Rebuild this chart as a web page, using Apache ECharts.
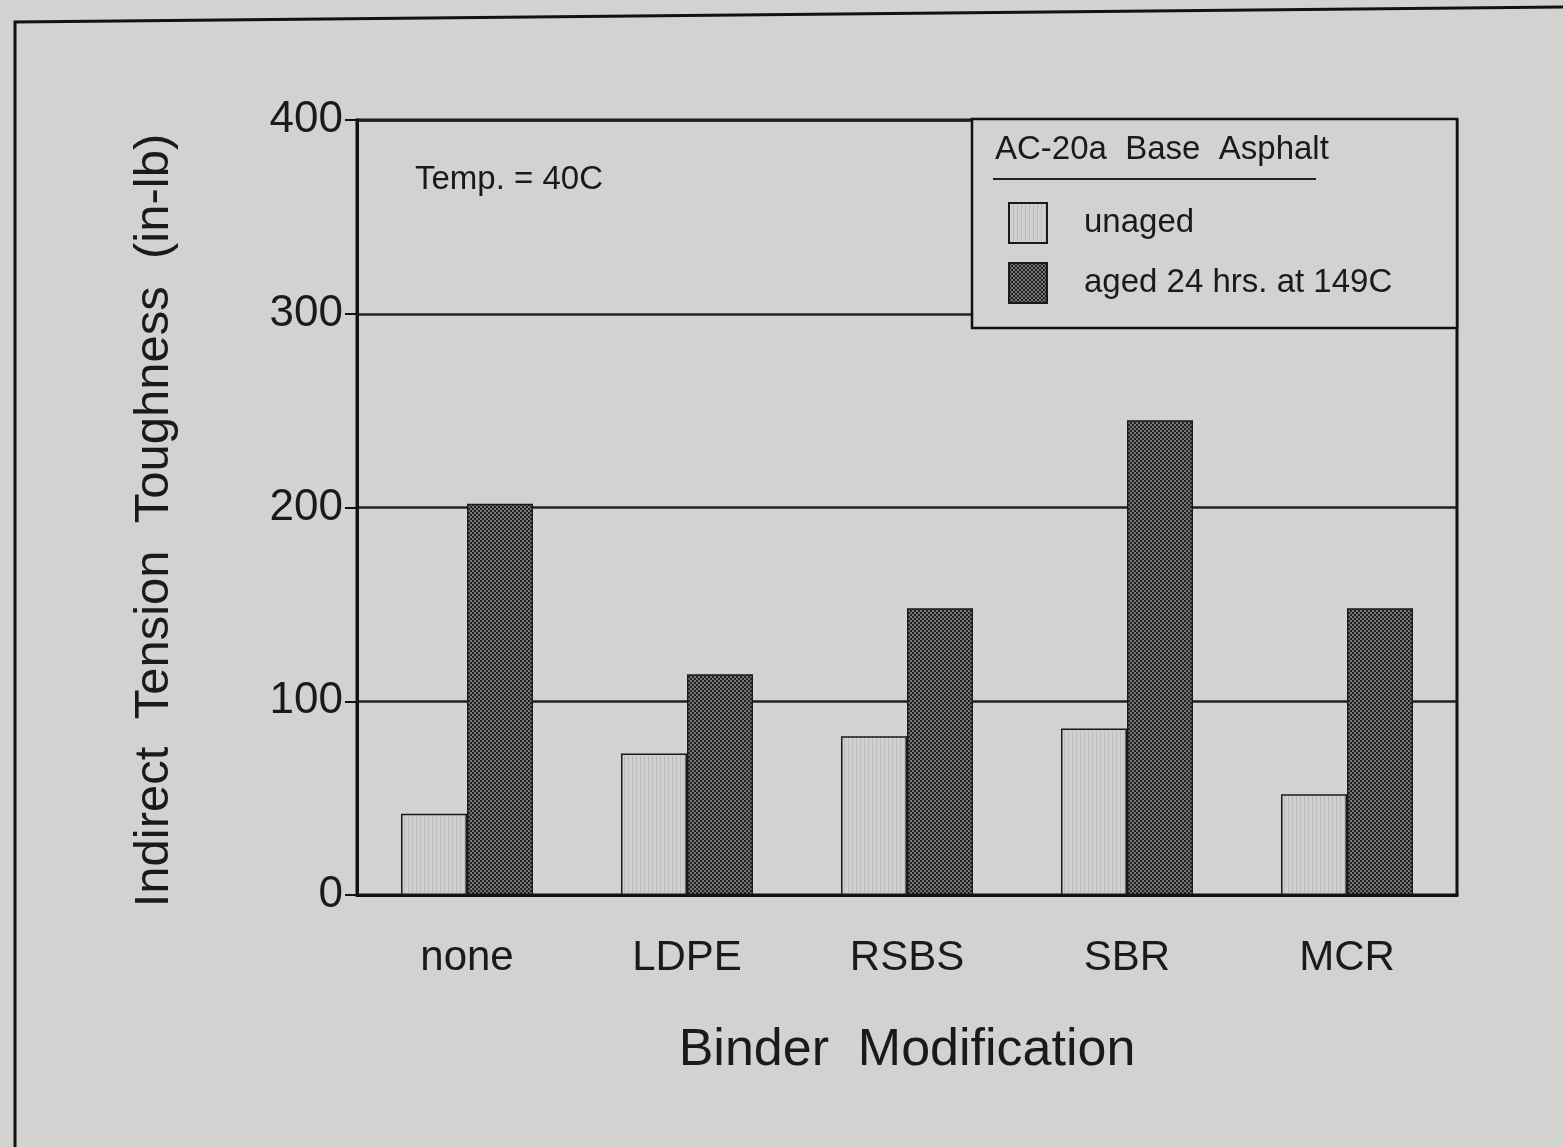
<!DOCTYPE html>
<html><head><meta charset="utf-8">
<script src="https://cdn.jsdelivr.net/npm/echarts@6/dist/echarts.min.js"></script>
<style>html,body{margin:0;padding:0;background:#d2d3d1;}#c{width:1563px;height:1147px;}</style>
</head><body><div id="c"></div>
<script>
const categories = ['none', 'LDPE', 'RSBS', 'SBR', 'MCR'];
const unaged = [42, 73, 82, 86, 52];
const aged = [202, 114, 148, 245, 148];
const seriesNames = ['unaged', 'aged 24 hrs. at 149C'];
const yTicks = [0, 100, 200, 300, 400];

function makePattern(kind) {
  const c = document.createElement('canvas');
  c.width = 4; c.height = 4;
  const g = c.getContext('2d');
  if (kind === 'dark') {
    g.fillStyle = '#767676'; g.fillRect(0, 0, 4, 4);
    g.fillStyle = '#222222';
    g.fillRect(0, 0, 2, 2); g.fillRect(2, 2, 2, 2);
  } else {
    g.fillStyle = '#d0d1cf'; g.fillRect(0, 0, 4, 4);
    g.fillStyle = '#bcbdbb'; g.fillRect(0, 0, 1, 4);
  }
  return { image: c, repeat: 'repeat' };
}

const chart = echarts.init(document.getElementById('c'));
const font = 'Liberation Sans, Arial, sans-serif';
chart.setOption({
  backgroundColor: '#d2d3d1',
  animation: false,
  textStyle: { fontFamily: font, color: '#1a1a1a' },
  grid: { left: 357, right: 106, top: 120, bottom: 252, show: true, borderColor: '#111', borderWidth: 3, backgroundColor: 'transparent' },
  xAxis: {
    type: 'category', data: categories,
    axisLine: { lineStyle: { color: '#111', width: 3 } },
    axisTick: { show: false },
    axisLabel: { fontSize: 42, color: '#1a1a1a', margin: 42, fontFamily: font },
    name: 'Binder  Modification', nameLocation: 'middle', nameGap: 130,
    nameTextStyle: { fontSize: 52, color: '#1a1a1a', fontFamily: font }
  },
  yAxis: {
    type: 'value', min: yTicks[0], max: yTicks[yTicks.length - 1], interval: 100,
    axisLine: { show: true, lineStyle: { color: '#111', width: 3 } },
    axisTick: { show: true, length: 12, inside: false, lineStyle: { color: '#111', width: 2 } },
    axisLabel: { fontSize: 44, color: '#1a1a1a', margin: 14, fontFamily: font },
    splitLine: { show: true, lineStyle: { color: '#222', width: 2.5 } },
    name: 'Indirect  Tension  Toughness  (in-lb)', nameLocation: 'middle', nameGap: 178,
    nameTextStyle: { fontSize: 49, color: '#1a1a1a', fontFamily: font, padding: [0, 26, 0, 0] }
  },
  legend: {
    orient: 'vertical', left: 1008, top: 202, z: 10, padding: 0,
    data: seriesNames, itemWidth: 38, itemHeight: 40, itemGap: 18,
    textStyle: { fontSize: 33, color: '#1a1a1a', padding: [0, 0, 0, 32], fontFamily: font },
    icon: 'rect'
  },
  graphic: [
    { type: 'rect', z: 5, shape: { x: 972, y: 119, width: 485, height: 209 },
      style: { fill: '#d2d3d1', stroke: '#111', lineWidth: 2.5 } },
    { type: 'text', z: 6, left: 995, top: 133,
      style: { text: 'AC-20a  Base  Asphalt', font: '33px ' + font, fill: '#1a1a1a' } },
    { type: 'line', z: 6, shape: { x1: 993, y1: 179, x2: 1316, y2: 179 },
      style: { stroke: '#222', lineWidth: 2 } },
    { type: 'text', z: 6, left: 415, top: 163,
      style: { text: 'Temp. = 40C', font: '33px ' + font, fill: '#1a1a1a' } },
    { type: 'polyline', z: 6, shape: { points: [[15, 1147], [15, 22], [1563, 7]] },
      style: { stroke: '#111', lineWidth: 3, fill: null } }
  ],
  series: [
    { name: seriesNames[0], type: 'bar', data: unaged, barGap: '0%', barCategoryGap: '40%',
      itemStyle: { color: makePattern('light'), borderColor: '#1a1a1a', borderWidth: 1.5 } },
    { name: seriesNames[1], type: 'bar', data: aged,
      itemStyle: { color: makePattern('dark'), borderColor: '#1a1a1a', borderWidth: 1.5 } }
  ]
});
</script></body></html>
